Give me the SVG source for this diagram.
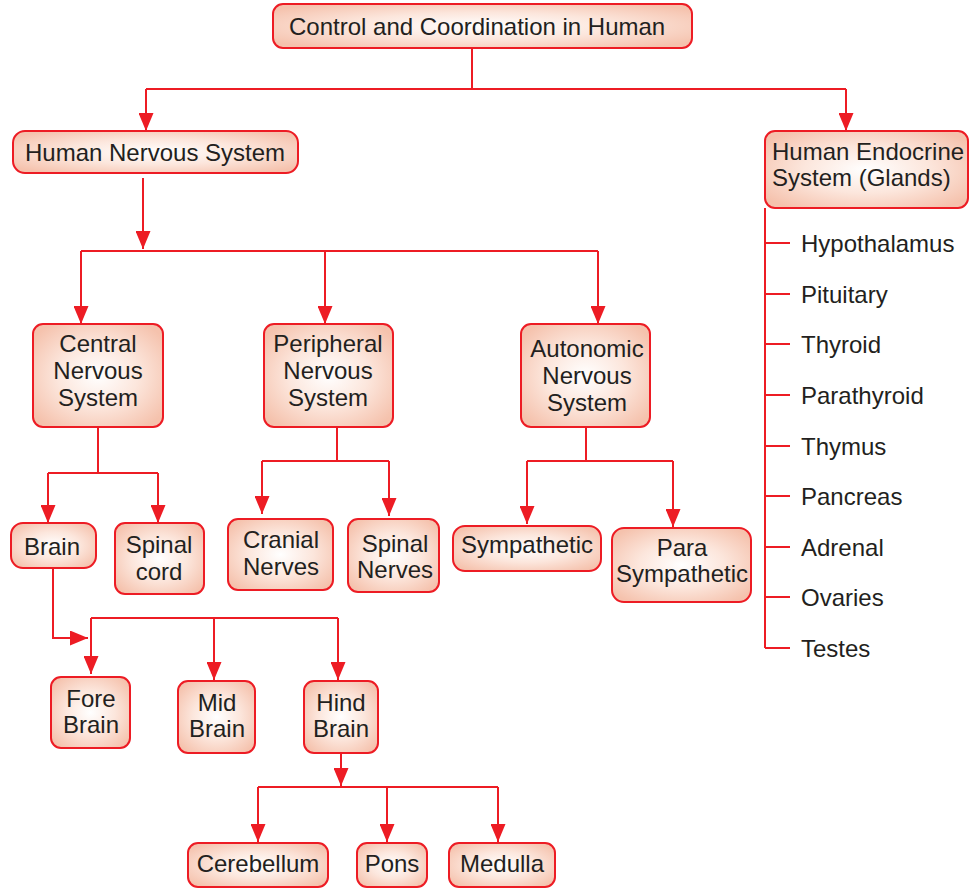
<svg xmlns="http://www.w3.org/2000/svg" width="969" height="888" viewBox="0 0 969 888">
<defs>
<radialGradient id="g" cx="0.5" cy="0.5" r="0.62">
<stop offset="0" stop-color="#ffffff"/>
<stop offset="0.5" stop-color="#fce6dc"/>
<stop offset="1" stop-color="#f5c2ad"/>
</radialGradient>
<marker id="ah" viewBox="0 0 18 15" refX="18" refY="7.5" markerWidth="18" markerHeight="15" markerUnits="userSpaceOnUse" orient="auto">
<path d="M0,0 L18,7.5 L0,15 z" fill="#ed1c24"/>
</marker>
<style>
.box{fill:url(#g);stroke:#ed1c24;stroke-width:2}
text{font-family:"Liberation Sans",Arial,sans-serif;font-size:24px;fill:#231f20}
.c{text-anchor:middle}
.ln{fill:none;stroke:#ed1c24;stroke-width:2}
.ar{fill:none;stroke:#ed1c24;stroke-width:2;marker-end:url(#ah)}
</style>
</defs>

<g id="connectors">
<path class="ln" d="M472,48 V89 M146,89 H846"/>
<path class="ar" d="M146,89 V131"/>
<path class="ar" d="M846,89 V131"/>
<path class="ar" d="M143,178 V249"/>
<path class="ln" d="M81,251 H598"/>
<path class="ar" d="M81,251 V324"/>
<path class="ar" d="M325,251 V324"/>
<path class="ar" d="M598,251 V324"/>
<path class="ln" d="M765,208 V648 M765,243 H790 M765,294 H790 M765,344 H790 M765,395 H790 M765,446 H790 M765,496 H790 M765,547 H790 M765,597 H790 M765,648 H790"/>
<path class="ln" d="M98,427 V473 M48,473 H158"/>
<path class="ar" d="M48,473 V523"/>
<path class="ar" d="M158,473 V523"/>
<path class="ln" d="M337,427 V461 M262,461 H389"/>
<path class="ar" d="M262,461 V514"/>
<path class="ar" d="M389,461 V516"/>
<path class="ln" d="M586,427 V461 M527,461 H673"/>
<path class="ar" d="M527,461 V524"/>
<path class="ar" d="M673,461 V527"/>
<path class="ar" d="M53,568 V638 H88"/>
<path class="ln" d="M91,618 H338"/>
<path class="ar" d="M91,618 V674"/>
<path class="ar" d="M214,618 V680"/>
<path class="ar" d="M338,618 V680"/>
<path class="ar" d="M341,753 V786"/>
<path class="ln" d="M258,787 H498"/>
<path class="ar" d="M258,787 V842"/>
<path class="ar" d="M387,787 V842"/>
<path class="ar" d="M498,787 V842"/>
</g>

<g id="control"><rect class="box" x="273" y="4" width="419" height="44" rx="10"/><text x="289" y="35">Control and Coordination in Human</text></g>
<g id="nervous"><rect class="box" x="13" y="131" width="285" height="42" rx="12"/><text x="25" y="161">Human Nervous System</text></g>
<g id="endocrine"><rect class="box" x="765" y="131" width="203" height="77" rx="10"/><text x="772" y="160">Human Endocrine</text><text x="772" y="186">System (Glands)</text></g>

<g id="glands">
<text x="801" y="252">Hypothalamus</text>
<text x="801" y="303">Pituitary</text>
<text x="801" y="353">Thyroid</text>
<text x="801" y="404">Parathyroid</text>
<text x="801" y="455">Thymus</text>
<text x="801" y="505">Pancreas</text>
<text x="801" y="556">Adrenal</text>
<text x="801" y="606">Ovaries</text>
<text x="801" y="657">Testes</text>
</g>

<g id="cns"><rect class="box" x="33" y="324" width="130" height="103" rx="10"/><text class="c" x="98" y="352">Central</text><text class="c" x="98" y="379">Nervous</text><text class="c" x="98" y="406">System</text></g>
<g id="pns"><rect class="box" x="264" y="324" width="129" height="103" rx="10"/><text class="c" x="328" y="352">Peripheral</text><text class="c" x="328" y="379">Nervous</text><text class="c" x="328" y="406">System</text></g>
<g id="ans"><rect class="box" x="521" y="324" width="129" height="103" rx="10"/><text class="c" x="587" y="357">Autonomic</text><text class="c" x="587" y="384">Nervous</text><text class="c" x="587" y="411">System</text></g>

<g id="brain"><rect class="box" x="11" y="523" width="85" height="45" rx="12"/><text class="c" x="52" y="555">Brain</text></g>
<g id="spinalcord"><rect class="box" x="115" y="523" width="89" height="71" rx="10"/><text class="c" x="159" y="553">Spinal</text><text class="c" x="159" y="580">cord</text></g>
<g id="cranial"><rect class="box" x="228" y="519" width="105" height="71" rx="10"/><text class="c" x="281" y="548">Cranial</text><text class="c" x="281" y="575">Nerves</text></g>
<g id="spinalnerves"><rect class="box" x="348" y="519" width="91" height="73" rx="10"/><text class="c" x="395" y="552">Spinal</text><text class="c" x="395" y="578">Nerves</text></g>
<g id="sympathetic"><rect class="box" x="453" y="526" width="148" height="45" rx="12"/><text class="c" x="527" y="553">Sympathetic</text></g>
<g id="parasympathetic"><rect class="box" x="612" y="528" width="139" height="74" rx="12"/><text class="c" x="682" y="556">Para</text><text class="c" x="682" y="582">Sympathetic</text></g>

<g id="forebrain"><rect class="box" x="51" y="677" width="79" height="71" rx="10"/><text class="c" x="91" y="707">Fore</text><text class="c" x="91" y="733">Brain</text></g>
<g id="midbrain"><rect class="box" x="178" y="681" width="77" height="72" rx="10"/><text class="c" x="217" y="711">Mid</text><text class="c" x="217" y="737">Brain</text></g>
<g id="hindbrain"><rect class="box" x="304" y="681" width="74" height="72" rx="10"/><text class="c" x="341" y="711">Hind</text><text class="c" x="341" y="737">Brain</text></g>

<g id="cerebellum"><rect class="box" x="188" y="843" width="140" height="44" rx="10"/><text class="c" x="258" y="872">Cerebellum</text></g>
<g id="pons"><rect class="box" x="357" y="843" width="70" height="44" rx="10"/><text class="c" x="392" y="872">Pons</text></g>
<g id="medulla"><rect class="box" x="449" y="843" width="106" height="44" rx="10"/><text class="c" x="502" y="872">Medulla</text></g>
</svg>
